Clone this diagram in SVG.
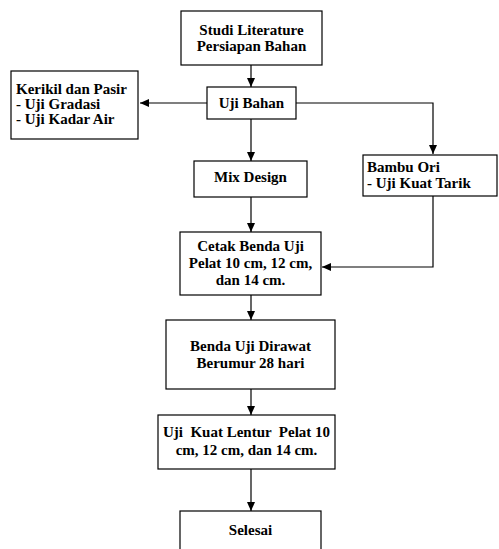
<svg xmlns="http://www.w3.org/2000/svg" width="499" height="549" viewBox="0 0 499 549">
<defs>
<marker id="ah" markerWidth="10" markerHeight="10" refX="9" refY="4" orient="auto" markerUnits="userSpaceOnUse">
<path d="M0,0 L9,4 L0,8 z" fill="#000"/>
</marker>
<style>
rect{fill:#fff;stroke:#000;stroke-width:1.2}
text{font-family:"Liberation Serif","Times New Roman",serif;font-weight:bold;font-size:15px;fill:#000;white-space:pre}
.c{text-anchor:middle}
.e path{fill:none;stroke:#000;stroke-width:1.2;marker-end:url(#ah)}
</style>
</defs>
<rect x="0" y="0" width="499" height="549" style="stroke:none"/>
<g class="e" id="connectors">
<path d="M251,65 V87"/>
<path d="M207,103 H140"/>
<path d="M296,103 H433 V154"/>
<path d="M251,119 V161"/>
<path d="M251,197 V232"/>
<path d="M433,196 V267 H322"/>
<path d="M251,295 V320"/>
<path d="M251,389 V415"/>
<path d="M251,469 V511"/>
</g>
<g id="studi"><rect x="181" y="11" width="141" height="54"/><text class="c" x="251.5" y="35">Studi Literature</text><text class="c" x="251.5" y="51">Persiapan Bahan</text></g>
<g id="ujibahan"><rect x="207" y="87" width="89" height="32"/><text class="c" x="251.5" y="108">Uji Bahan</text></g>
<g id="kerikil"><rect x="11" y="71" width="127" height="68"/><text x="16" y="94">Kerikil dan Pasir</text><text x="16" y="109">- Uji Gradasi</text><text x="16" y="124">- Uji Kadar Air</text></g>
<g id="mix"><rect x="194" y="161" width="113" height="36"/><text class="c" x="250.5" y="182">Mix Design</text></g>
<g id="bambu"><rect x="363" y="155" width="134" height="41"/><text x="367" y="172">Bambu Ori</text><text x="367" y="188">- Uji Kuat Tarik</text></g>
<g id="cetak"><rect x="180" y="232" width="141" height="63"/><text class="c" x="250.5" y="251">Cetak Benda Uji</text><text class="c" x="250.5" y="268">Pelat 10 cm, 12 cm,</text><text class="c" x="250.5" y="285">dan 14 cm.</text></g>
<g id="dirawat"><rect x="166" y="320" width="169" height="69"/><text class="c" x="250.5" y="351">Benda Uji Dirawat</text><text class="c" x="250.5" y="368">Berumur 28 hari</text></g>
<g id="lentur"><rect x="158" y="415" width="177" height="54"/><text class="c" x="246.5" y="437">Uji  Kuat Lentur  Pelat 10</text><text class="c" x="246.5" y="455">cm, 12 cm, dan 14 cm.</text></g>
<g id="selesai"><rect x="180" y="511" width="141" height="50"/><text class="c" x="250.5" y="535">Selesai</text></g>
</svg>
